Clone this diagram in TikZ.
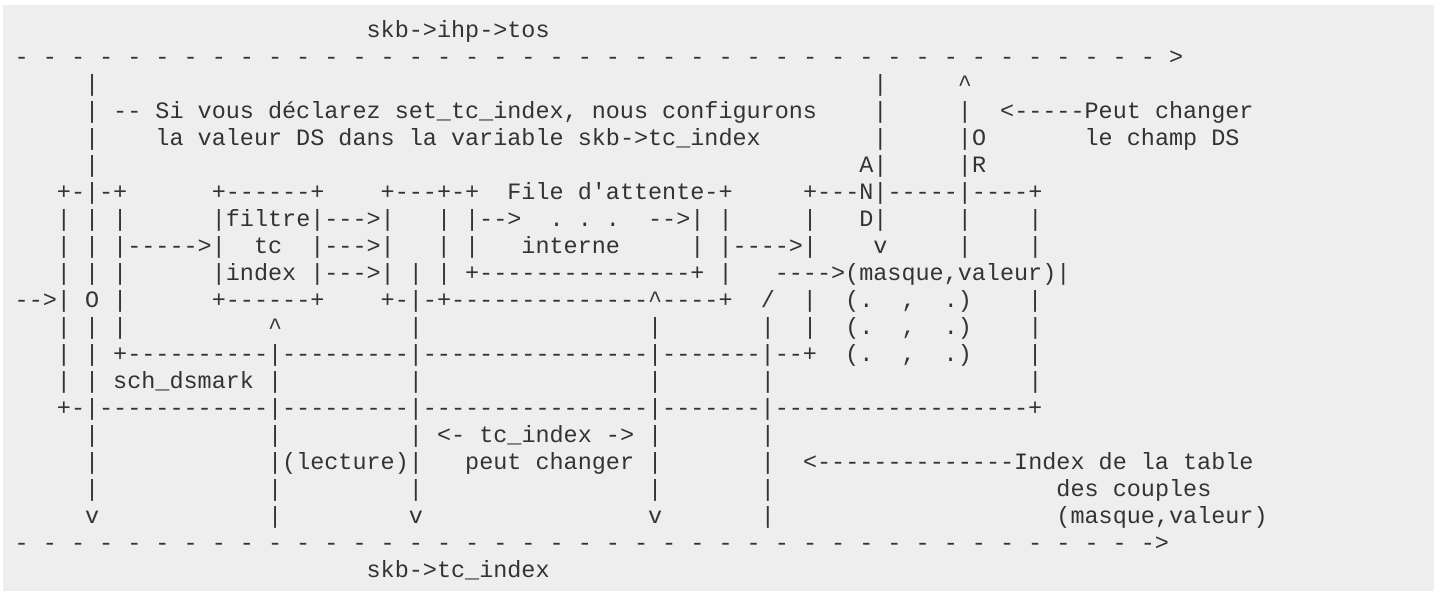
\documentclass[tikz,border=0pt]{standalone}
\usepackage{fontspec}
\setmonofont{Liberation Mono}
\usepackage{tikz}
\definecolor{codebg}{HTML}{EEEEEE}
\definecolor{codefg}{HTML}{333333}

\begingroup
\catcode`\^=12 \catcode`\_=12 \obeyspaces%
\gdef\lnA{\null                         skb->ihp->tos}%
\gdef\lnB{\null- - - - - - - - - - - - - - - - - - - - - - - - - - - - - - - - - - - - - - - - - >}%
\gdef\lnC{\null     |                                                       |     ^}%
\gdef\lnD{\null     | -- Si vous déclarez set_tc_index, nous configurons    |     |  <-----Peut changer}%
\gdef\lnE{\null     |    la valeur DS dans la variable skb->tc_index        |     |O       le champ DS}%
\gdef\lnF{\null     |                                                      A|     |R}%
\gdef\lnG{\null   +-|-+      +------+    +---+-+  File d'attente-+     +---N|-----|----+}%
\gdef\lnH{\null   | | |      |filtre|--->|   | |-->  . . .  -->| |     |   D|     |    |}%
\gdef\lnI{\null   | | |----->|  tc  |--->|   | |   interne     | |---->|    v     |    |}%
\gdef\lnJ{\null   | | |      |index |--->| | | +---------------+ |   ---->(masque,valeur)|}%
\gdef\lnK{\null-->| O |      +------+    +-|-+--------------^----+  /  |  (.  ,  .)    |}%
\gdef\lnL{\null   | | |          ^         |                |       |  |  (.  ,  .)    |}%
\gdef\lnM{\null   | | +----------|---------|----------------|-------|--+  (.  ,  .)    |}%
\gdef\lnN{\null   | | sch_dsmark |         |                |       |                  |}%
\gdef\lnO{\null   +-|------------|---------|----------------|-------|------------------+}%
\gdef\lnP{\null     |            |         | <- tc_index -> |       |}%
\gdef\lnQ{\null     |            |(lecture)|   peut changer |       |  <--------------Index de la table}%
\gdef\lnR{\null     |            |         |                |       |                    des couples}%
\gdef\lnS{\null     v            |         v                v       |                    (masque,valeur)}%
\gdef\lnT{\null- - - - - - - - - - - - - - - - - - - - - - - - - - - - - - - - - - - - - - - - ->}%
\gdef\lnU{\null                         skb->tc_index}%
\endgroup

\begin{document}
\begin{tikzpicture}[x=0.5pt,y=-0.5pt,
    asciirow/.style={anchor=base west,inner sep=0pt,text=codefg,
      font={\fontsize{11.73pt}{13.5pt}\ttfamily\frenchspacing}}]
  \useasboundingbox (0,0) rectangle (1434,591);
  \fill[codebg] (3,5) rectangle (1434,591);

  \node[asciirow] (tos)    at (14.3,37)  {\lnA};
  \node[asciirow] (toparr) at (14.3,64)  {\lnB};
  \node[asciirow] (l3)     at (14.3,91)  {\lnC};
  \node[asciirow] (l4)     at (14.3,118) {\lnD};
  \node[asciirow] (l5)     at (14.3,145) {\lnE};
  \node[asciirow] (l6)     at (14.3,172) {\lnF};
  \node[asciirow] (l7)     at (14.3,199) {\lnG};
  \node[asciirow] (l8)     at (14.3,226) {\lnH};
  \node[asciirow] (l9)     at (14.3,253) {\lnI};
  \node[asciirow] (l10)    at (14.3,280) {\lnJ};
  \node[asciirow] (l11)    at (14.3,307) {\lnK};
  \node[asciirow] (l12)    at (14.3,334) {\lnL};
  \node[asciirow] (l13)    at (14.3,361) {\lnM};
  \node[asciirow] (l14)    at (14.3,388) {\lnN};
  \node[asciirow] (l15)    at (14.3,415) {\lnO};
  \node[asciirow] (l16)    at (14.3,442) {\lnP};
  \node[asciirow] (l17)    at (14.3,469) {\lnQ};
  \node[asciirow] (l18)    at (14.3,496) {\lnR};
  \node[asciirow] (l19)    at (14.3,523) {\lnS};
  \node[asciirow] (botarr) at (14.3,550) {\lnT};
  \node[asciirow] (tcidx)  at (14.3,577) {\lnU};
\end{tikzpicture}
\end{document}
